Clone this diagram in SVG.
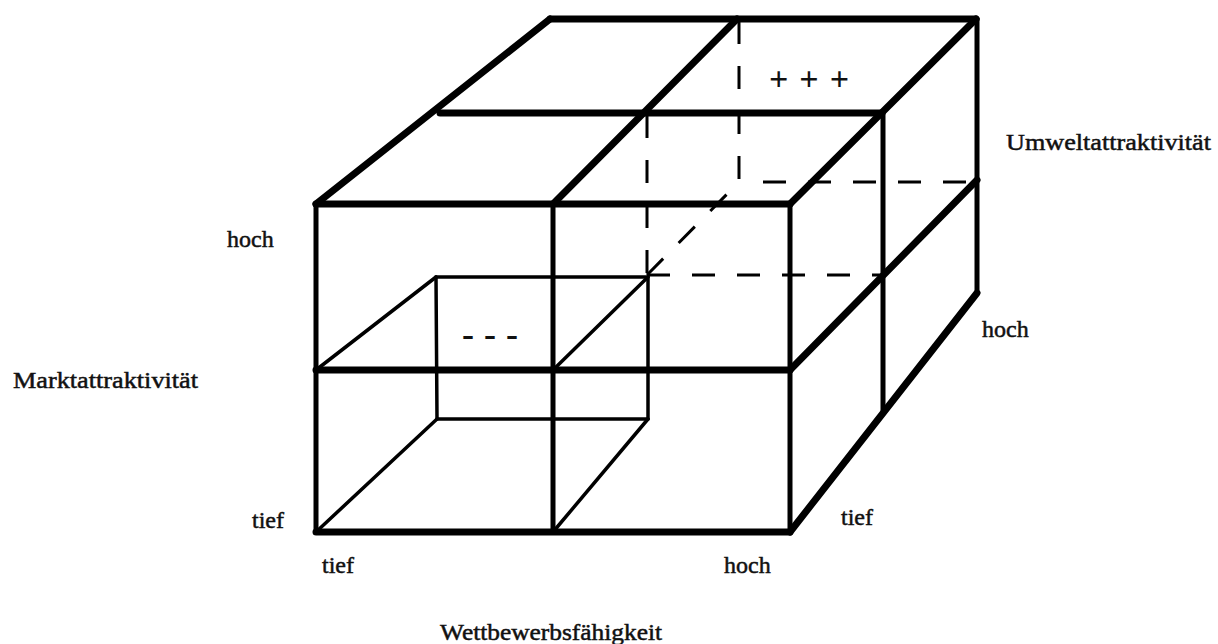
<svg xmlns="http://www.w3.org/2000/svg" width="1218" height="644" viewBox="0 0 1218 644">
  <style>
    .thick { stroke: #000; stroke-width: 7; fill: none; stroke-linecap: round; stroke-linejoin: round; }
    .med { stroke: #000; stroke-width: 5; fill: none; stroke-linecap: round; }
    .thin { stroke: #000; stroke-width: 3.5; fill: none; stroke-linecap: round; }
    .dash { stroke: #000; stroke-width: 3; fill: none; stroke-dasharray: 23 22; }
    .lbl { font-family: "Liberation Serif", "Times New Roman", serif; font-size: 24px; fill: #111; stroke: #111; stroke-width: 0.5; }
    .sym { font-family: "Liberation Serif", "Times New Roman", serif; fill: #111; font-weight: bold; }
  </style>
  <rect width="1218" height="644" fill="#fff"/>

  <g id="connectors">
    <!-- hidden (dashed) edges -->
    <g id="hidden-edges">
      <line class="dash" x1="647" y1="115" x2="647" y2="275"/>
      <line class="dash" x1="647" y1="275" x2="883" y2="275"/>
      <line class="dash" x1="647" y1="275" x2="739" y2="182"/>
      <line class="dash" x1="739" y1="21" x2="739" y2="182"/>
      <line class="dash" x1="763" y1="182" x2="977" y2="182"/>
    </g>

    <!-- inner cell (tief/tief/tief) -->
    <g id="inner-cell">
      <line class="thin" x1="436" y1="277" x2="648" y2="277"/>
      <line class="thin" x1="437" y1="419" x2="648" y2="419"/>
      <line class="thin" x1="436" y1="277" x2="437" y2="419"/>
      <line class="thin" x1="648" y1="277" x2="648" y2="419"/>
      <line class="thin" x1="316" y1="370" x2="436" y2="277"/>
      <line class="thin" x1="553" y1="370" x2="648" y2="277"/>
      <line class="thin" x1="316" y1="532" x2="437" y2="419"/>
      <line class="thin" x1="553" y1="532" x2="648" y2="419"/>
    </g>

    <!-- top face -->
    <g id="top-face">
      <line class="thick" x1="316" y1="204" x2="790" y2="204"/>
      <line class="thick" x1="440" y1="113" x2="882" y2="113"/>
      <line class="thick" x1="550" y1="19" x2="976" y2="19"/>
      <line class="thick" x1="316" y1="204" x2="550" y2="19"/>
      <line class="thick" x1="553" y1="204" x2="737" y2="19"/>
      <line class="thick" x1="790" y1="204" x2="976" y2="19"/>
    </g>

    <!-- front face -->
    <g id="front-face">
      <line class="med" x1="316" y1="204" x2="316" y2="532"/>
      <line class="med" x1="553" y1="204" x2="553" y2="532"/>
      <line class="med" x1="790" y1="204" x2="790" y2="532"/>
      <line class="thick" x1="316" y1="370" x2="790" y2="370"/>
      <line class="thick" x1="316" y1="532" x2="790" y2="532"/>
    </g>

    <!-- right face -->
    <g id="right-face">
      <line class="thick" x1="790" y1="370" x2="977" y2="180"/>
      <line class="thick" x1="790" y1="532" x2="977" y2="293"/>
      <line class="med" x1="883" y1="113" x2="883" y2="410"/>
      <line class="med" x1="977" y1="19" x2="977" y2="293"/>
    </g>
  </g>

  <g id="cell-best">
    <text class="sym" x="769" y="90" font-size="34" textLength="80" lengthAdjust="spacing">+ + +</text>
  </g>
  <g id="cell-worst">
    <text class="sym" x="462" y="346" font-size="36" textLength="56" lengthAdjust="spacing">- - -</text>
  </g>

  <g id="axis-umwelt">
    <text class="lbl" x="1006" y="150" textLength="205" lengthAdjust="spacingAndGlyphs">Umweltattraktivität</text>
    <text class="lbl" x="982" y="337">hoch</text>
    <text class="lbl" x="841" y="525">tief</text>
  </g>
  <g id="axis-markt">
    <text class="lbl" x="13" y="388" textLength="185" lengthAdjust="spacingAndGlyphs">Marktattraktivität</text>
    <text class="lbl" x="227" y="247">hoch</text>
    <text class="lbl" x="252" y="528">tief</text>
  </g>
  <g id="axis-wettbewerb">
    <text class="lbl" x="440" y="640" textLength="222" lengthAdjust="spacingAndGlyphs">Wettbewerbsfähigkeit</text>
    <text class="lbl" x="322" y="573">tief</text>
    <text class="lbl" x="724" y="573">hoch</text>
  </g>
</svg>
